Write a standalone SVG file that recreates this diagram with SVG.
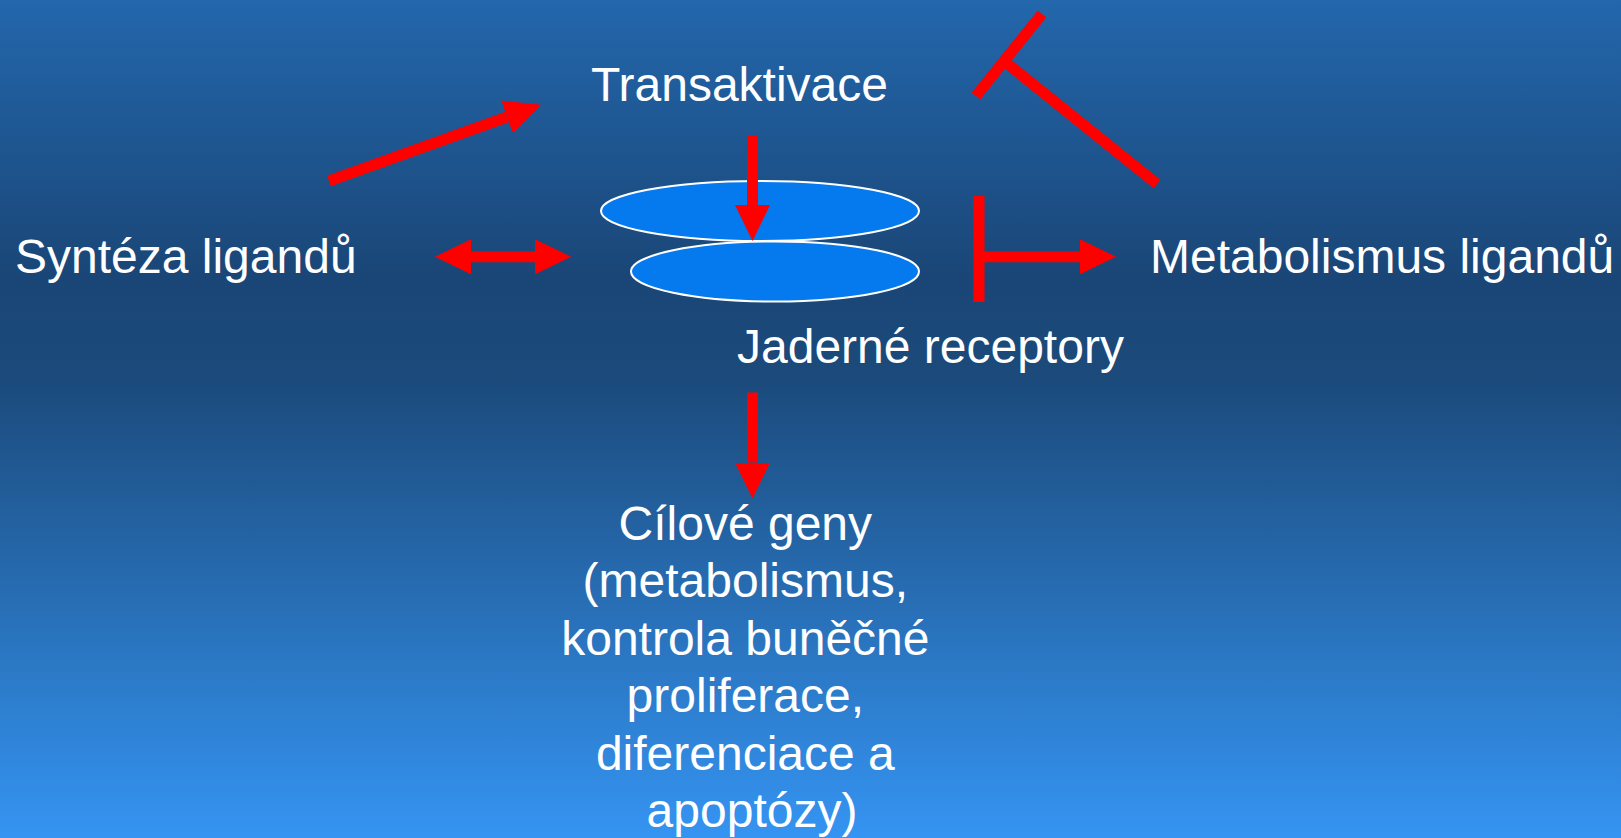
<svg xmlns="http://www.w3.org/2000/svg" width="1621" height="838" viewBox="0 0 1621 838">
<defs>
<linearGradient id="bg" x1="0" y1="0" x2="0" y2="1">
<stop offset="0" stop-color="#2367AC"/>
<stop offset="0.33" stop-color="#1A4677"/>
<stop offset="0.45" stop-color="#1B4A7B"/>
<stop offset="1" stop-color="#3594F2"/>
</linearGradient>
<marker id="head" viewBox="0 -18 36 36" refX="0" refY="0" markerWidth="36" markerHeight="36" markerUnits="userSpaceOnUse" orient="auto-start-reverse">
<path d="M0,-17.5 L36,0 L0,17.5 z" fill="#FF0000"/>
</marker>
<style>
.lbl{font-family:"Liberation Sans",Arial,sans-serif;font-size:48px;fill:#FFFFFF}
.c{text-anchor:middle}
.red{stroke:#FF0000;stroke-width:11;fill:none}
.disc{fill:#0579EE;stroke:#FFFFFF;stroke-width:2}
</style>
</defs>
<rect x="0" y="0" width="1621" height="838" fill="url(#bg)"/>
<g id="receptors">
<ellipse class="disc" cx="760" cy="211" rx="159" ry="30"/>
<ellipse class="disc" cx="775" cy="271.5" rx="144" ry="30"/>
</g>
<g id="connectors">
<line class="red" x1="329" y1="181" x2="507" y2="117" marker-end="url(#head)"/>
<line class="red" x1="752.5" y1="135.5" x2="752.5" y2="205" marker-end="url(#head)"/>
<line class="red" x1="471" y1="256.7" x2="535" y2="256.7" marker-start="url(#head)" marker-end="url(#head)"/>
<line class="red" x1="979" y1="196" x2="979" y2="302"/>
<line class="red" x1="979" y1="256.7" x2="1080" y2="256.7" marker-end="url(#head)"/>
<line class="red" x1="752.5" y1="392.5" x2="752.5" y2="462.5" marker-end="url(#head)"/>
<line class="red" x1="1157" y1="184" x2="1004" y2="61"/>
<line class="red" x1="976" y1="96" x2="1042" y2="14"/>
</g>
<g id="transaktivace"><text class="lbl" x="591" y="100.5">Transaktivace</text></g>
<g id="synteza"><text class="lbl" x="15" y="273">Syntéza ligandů</text></g>
<g id="metabolismus"><text class="lbl" x="1150" y="273">Metabolismus ligandů</text></g>
<g id="jaderne"><text class="lbl" x="737" y="362.5">Jaderné receptory</text></g>
<g id="cilove">
<text class="lbl c" x="752">
<tspan x="752" y="539.5">Cílové geny</tspan>
<tspan x="752" y="597">(metabolismus,</tspan>
<tspan x="752" y="654.5">kontrola buněčné</tspan>
<tspan x="752" y="712">proliferace,</tspan>
<tspan x="752" y="769.5">diferenciace a</tspan>
<tspan x="752" y="826.5">apoptózy)</tspan>
</text>
</g>
</svg>
